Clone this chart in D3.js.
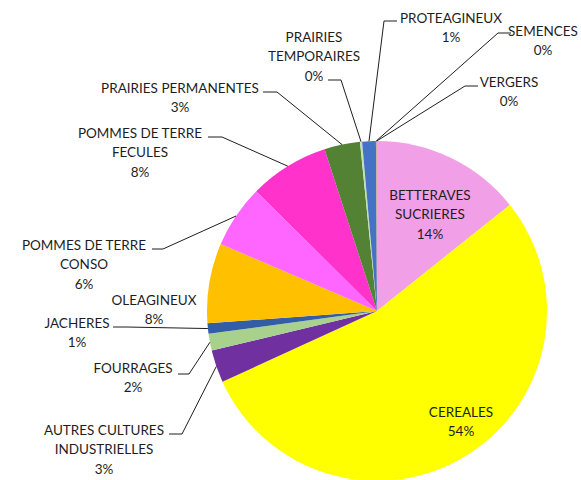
<!DOCTYPE html>
<html>
<head>
<meta charset="utf-8">
<script src="https://cdn.jsdelivr.net/npm/d3@7"></script>
<style>
  body { margin: 0; background: #fff; }
  text { font-family: Lato, "Open Sans", sans-serif; font-size: 13.5px; fill: #1e1e1e; }
</style>
</head>
<body>
<svg id="chart"></svg>
<script>
const width = 581;
const height = 480;

// données (surfaces en %)
const categories = [
  'BETTERAVES SUCRIERES', 'CEREALES', 'AUTRES CULTURES INDUSTRIELLES', 'FOURRAGES',
  'JACHERES', 'OLEAGINEUX', 'POMMES DE TERRE CONSO', 'POMMES DE TERRE FECULES',
  'PRAIRIES PERMANENTES', 'PRAIRIES TEMPORAIRES', 'PROTEAGINEUX', 'SEMENCES', 'VERGERS'
];
const values = [14.3, 54.0, 3.1, 1.6, 1.0, 7.6, 6.0, 7.6, 3.4, 0.2, 1.3, 0.05, 0.05];
const colors = [
  '#F19FE6', '#FFFF00', '#7030A0', '#A9D18E', '#335EA6', '#FFC000', '#FF66FF',
  '#FF33CC', '#548235', '#C5E0B4', '#4472C4', '#ED7D31', '#A5A5A5'
];
// lignes des étiquettes
const labelLines = [
  ['BETTERAVES', 'SUCRIERES'], ['CEREALES'], ['AUTRES CULTURES', 'INDUSTRIELLES'], ['FOURRAGES'],
  ['JACHERES'], ['OLEAGINEUX'], ['POMMES DE TERRE', 'CONSO'], ['POMMES DE TERRE', 'FECULES'],
  ['PRAIRIES PERMANENTES'], ['PRAIRIES', 'TEMPORAIRES'], ['PROTEAGINEUX'], ['SEMENCES'], ['VERGERS']
];

// placement des étiquettes : centre x, y de la 1re ligne, trait horizontal (x0 -> x1 à ly)
const labelLayout = [
  { x: 430, y: 195 },
  { x: 461, y: 412 },
  { x: 104, y: 430, x0: 169, x1: 182, ly: 434 },
  { x: 133, y: 368, x0: 178, x1: 189, ly: 374 },
  { x: 77, y: 323, x0: 113, x1: 126, ly: 327 },
  { x: 154, y: 300 },
  { x: 84, y: 245, x0: 152, x1: 163, ly: 249 },
  { x: 140, y: 133, x0: 208, x1: 222, ly: 137 },
  { x: 180, y: 88, x0: 263, x1: 277, ly: 92 },
  { x: 314, y: 37, x0: 328, x1: 341, ly: 80 },
  { x: 451, y: 18, x0: 397, x1: 384, ly: 21 },
  { x: 543, y: 31, x0: 511, x1: 498, ly: 33 },
  { x: 509, y: 82, x0: 478, x1: 465, ly: 86 }
];

const cx = 377, cy = 311, radius = 170;
const lineHeight = 19.3;

const svg = d3.select('#chart')
  .attr('width', width)
  .attr('height', height);

const data = categories.map((c, i) => ({ name: c, value: values[i], color: colors[i], lines: labelLines[i], pos: labelLayout[i] }));
const total = d3.sum(values);

const pie = d3.pie().sort(null).value(d => d.value);
const arc = d3.arc().innerRadius(0).outerRadius(radius);
const edge = d3.arc().innerRadius(radius).outerRadius(radius);

const g = svg.append('g').attr('transform', `translate(${cx},${cy})`);
const arcs = pie(data);

g.selectAll('path.slice')
  .data(arcs)
  .enter()
  .append('path')
  .attr('class', 'slice')
  .attr('d', arc)
  .attr('fill', d => d.data.color);

// traits de rappel
svg.selectAll('polyline.leader')
  .data(arcs.filter(d => d.data.pos.x0 !== undefined))
  .enter()
  .append('polyline')
  .attr('class', 'leader')
  .attr('fill', 'none')
  .attr('stroke', '#1e1e1e')
  .attr('stroke-width', 1)
  .attr('points', d => {
    const p = d.data.pos;
    const e = edge.centroid(d);
    return [[p.x0, p.ly], [p.x1, p.ly], [cx + e[0], cy + e[1]]].map(q => q.join(',')).join(' ');
  });

// étiquettes
const labels = svg.selectAll('text.label')
  .data(arcs)
  .enter()
  .append('text')
  .attr('class', 'label')
  .attr('text-anchor', 'middle')
  .attr('dominant-baseline', 'central');

labels.each(function (d) {
  const t = d3.select(this);
  const lines = d.data.lines.concat([Math.round(d.data.value / total * 100) + '%']);
  lines.forEach((s, i) => {
    t.append('tspan')
      .attr('x', d.data.pos.x)
      .attr('y', d.data.pos.y + i * lineHeight)
      .text(s);
  });
});
</script>
</body>
</html>
